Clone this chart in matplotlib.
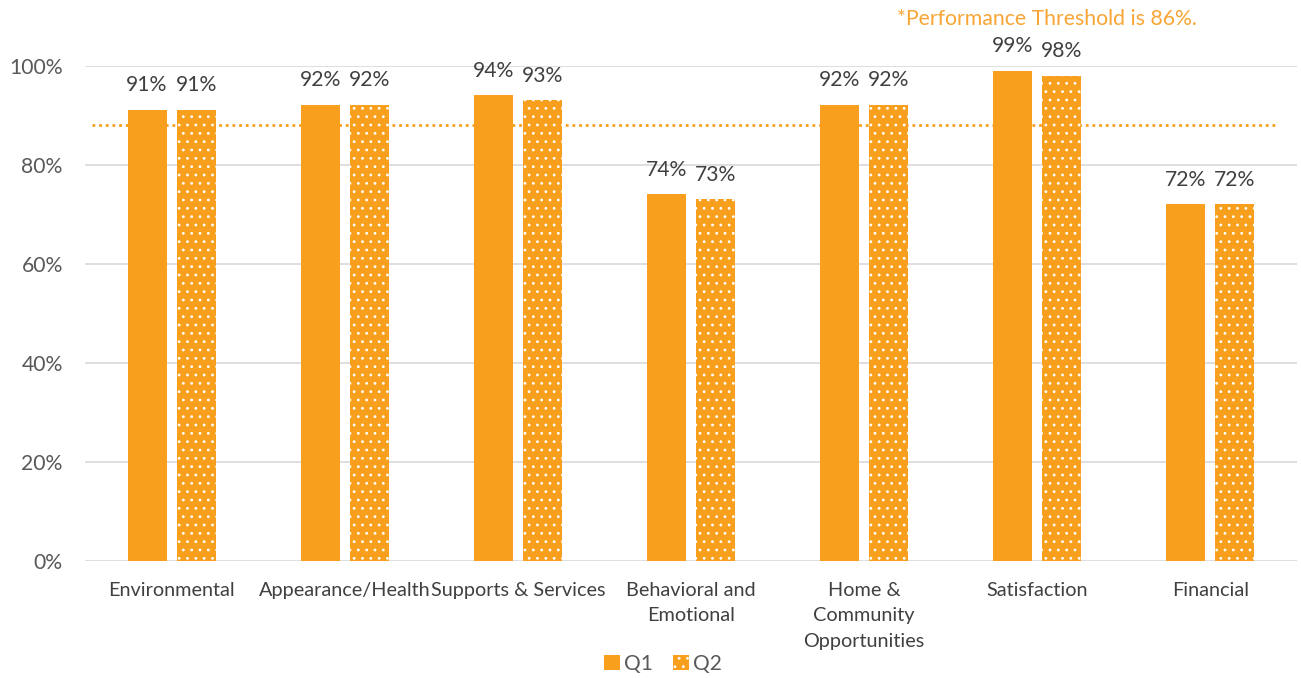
import matplotlib.pyplot as plt
import numpy as np

categories = ["Environmental", "Appearance/Health", "Supports & Services",
              "Behavioral and\nEmotional", "Home &\nCommunity\nOpportunities",
              "Satisfaction", "Financial"]
q1 = [91, 92, 94, 74, 92, 99, 72]
q2 = [91, 92, 93, 73, 92, 98, 72]
threshold_line = 88
threshold_note = "*Performance Threshold is 86%."
yticks = [0, 20, 40, 60, 80, 100]

ORANGE = "#F8A01E"
plt.rcParams['font.family'] = ['Lato', 'DejaVu Sans']
plt.rcParams['hatch.linewidth'] = 0.8

fig = plt.figure(figsize=(13.01, 6.78), dpi=100)
ax = fig.add_axes([85 / 1301, 117 / 678, 1212 / 1301, (561 - 65.7) / 678])

x = np.arange(len(categories))
w = 0.225
off = 0.1416
b1 = ax.bar(x - off, q1, w, color=ORANGE, linewidth=0, label="Q1", zorder=3)
b2 = ax.bar(x + off, q2, w, color=ORANGE, edgecolor="white", linewidth=0,
            hatch="..", label="Q2", zorder=3)

for bars, vals in ((b1, q1), (b2, q2)):
    for r, v in zip(bars, vals):
        ax.text(r.get_x() + r.get_width() / 2, v + 3.0, f"{v}%", ha="center",
                va="bottom", fontsize=15.2, color="#404040")

ax.axhline(threshold_line, xmin=0.006, xmax=0.982, color=ORANGE, lw=2.0,
           ls=(0, (1.0, 1.4)), zorder=2)

ax.set_xlim(-0.5, len(categories) - 0.5)
ax.set_ylim(0, 100)
ax.set_yticks(yticks)
ax.set_yticklabels([f"{t}%" for t in yticks])
ax.yaxis.grid(True, color="#D9D9D9", lw=1.2, zorder=0)
ax.set_xticks(x)
ax.set_xticklabels(categories, fontsize=14.3, color="#404040", linespacing=1.6)
ax.tick_params(axis="y", labelsize=15.2, colors="#595959", length=0, pad=16)
ax.tick_params(axis="x", length=0, pad=15)
for s in ax.spines.values():
    s.set_visible(False)

fig.text(897 / 1301, 1 - 19 / 678, threshold_note, ha="left", va="center",
         fontsize=15.3, color="#F9A535")

fig.legend(handles=[b1, b2], loc="center", bbox_to_anchor=(663 / 1301, 1 - 664 / 678),
           ncol=2, frameon=False, fontsize=15, handlelength=0.75, handleheight=0.75,
           handletextpad=0.2, columnspacing=1.0, labelcolor="#595959")

fig.savefig("out.png", dpi=100)
